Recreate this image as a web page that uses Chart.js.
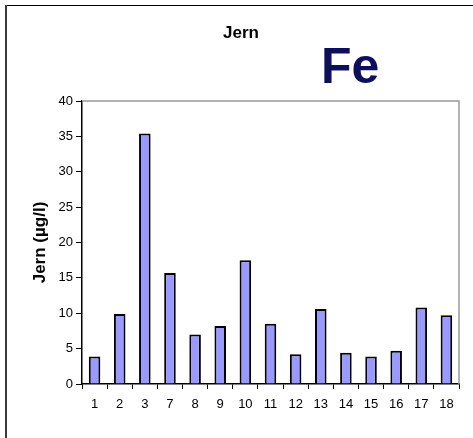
<!DOCTYPE html>
<html>
<head>
<meta charset="utf-8">
<script src="https://cdn.jsdelivr.net/npm/chart.js@4"></script>
<style>
  html, body { margin: 0; padding: 0; background: #fff; }
  #wrap { width: 473px; height: 438px; position: relative; }
</style>
</head>
<body>
<div id="wrap"><canvas id="jernChart"></canvas></div>
<script>
// sample point labels and iron values (µg/l)
const stations = ['1', '2', '3', '7', '8', '9', '10', '11', '12', '13', '14', '15', '16', '17', '18'];
const jernValues = [3.9, 9.9, 35.4, 15.7, 7.0, 8.2, 17.5, 8.5, 4.2, 10.6, 4.4, 3.9, 4.7, 10.8, 9.7];
const yTicks = [0, 5, 10, 15, 20, 25, 30, 35, 40];

const fontFamily = '"Liberation Sans", Arial, sans-serif';

// frame lines, chart title, grey plot border and the big "Fe" label
const decorations = {
    id: 'decorations',
    afterDraw(chart) {
        const ctx = chart.ctx;
        const area = chart.chartArea;
        ctx.save();
        // outer frame (left + top only)
        ctx.strokeStyle = '#000';
        ctx.lineWidth = 1;
        ctx.beginPath();
        ctx.moveTo(5, 5.5);
        ctx.lineTo(473, 5.5);
        ctx.stroke();
        ctx.strokeStyle = '#3a3a3a';
        ctx.lineWidth = 2;
        ctx.beginPath();
        ctx.moveTo(6, 5);
        ctx.lineTo(6, 438);
        ctx.stroke();
        // grey top and right edges of the plot area
        ctx.strokeStyle = '#999';
        ctx.lineWidth = 1.5;
        ctx.beginPath();
        ctx.moveTo(area.left, area.top);
        ctx.lineTo(area.right, area.top);
        ctx.lineTo(area.right, area.bottom);
        ctx.stroke();
        // title
        ctx.fillStyle = '#000';
        ctx.font = 'bold 17px ' + fontFamily;
        ctx.textAlign = 'center';
        ctx.textBaseline = 'middle';
        ctx.fillText('Jern', 241, 33);
        // element symbol
        ctx.fillStyle = '#0e0e5e';
        ctx.font = 'bold 50px ' + fontFamily;
        ctx.textAlign = 'left';
        ctx.textBaseline = 'alphabetic';
        ctx.fillText('Fe', 321, 83);
        ctx.restore();
    }
};

const ctx = document.getElementById('jernChart').getContext('2d');
const jernChart = new Chart(ctx, {
    type: 'bar',
    data: {
        labels: stations,
        datasets: [{
            label: 'Jern',
            data: jernValues,
            backgroundColor: '#9999ff',
            borderColor: '#000',
            borderWidth: 2,
            barPercentage: 0.46,
            categoryPercentage: 1
        }]
    },
    options: {
        responsive: true,
        maintainAspectRatio: false,
        animation: false,
        layout: {
            padding: { top: 101, left: 8, right: 14, bottom: 0 }
        },
        plugins: {
            legend: { display: false },
            tooltip: { enabled: false },
            title: { display: false }
        },
        scales: {
            x: {
                grid: {
                    display: true,
                    drawOnChartArea: false,
                    offset: true,
                    color: '#000',
                    tickLength: 5
                },
                border: { display: true, color: '#000', width: 1.5 },
                ticks: {
                    color: '#000',
                    padding: 8,
                    maxRotation: 0,
                    autoSkip: false,
                    font: { family: fontFamily, size: 13 }
                },
                afterFit(scale) {
                    scale.height = 54;
                }
            },
            y: {
                min: 0,
                max: 40,
                afterBuildTicks(scale) {
                    scale.ticks = yTicks.map(v => ({ value: v }));
                },
                grid: {
                    display: true,
                    drawOnChartArea: false,
                    color: '#000',
                    tickLength: 6
                },
                border: { display: true, color: '#000', width: 1.5 },
                ticks: {
                    color: '#000',
                    padding: 3,
                    font: { family: fontFamily, size: 13 }
                },
                title: {
                    display: true,
                    text: 'Jern (µg/l)',
                    color: '#000',
                    font: { family: fontFamily, size: 17, weight: 'bold' },
                    padding: { top: 22, bottom: 0 }
                },
                afterFit(scale) {
                    scale.width = 74;
                }
            }
        }
    },
    plugins: [decorations]
});
</script>
</body>
</html>
